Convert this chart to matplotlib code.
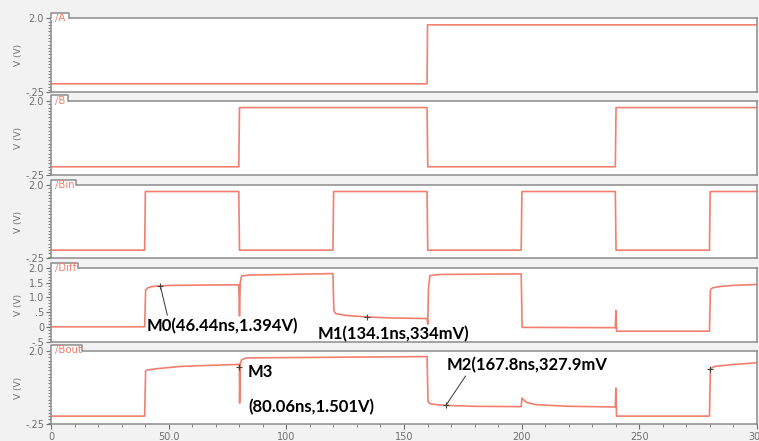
import matplotlib
matplotlib.use('Agg')
import matplotlib.pyplot as plt
from matplotlib.patches import Rectangle
from matplotlib.ticker import MultipleLocator, FixedLocator
import numpy as np

# Wellenformen als Stützpunkte (Zeit in ns, Spannung in V)
a_t = [0, 159.8, 160.0, 300]
a_v = [0.0, 0.0, 1.8, 1.8]

b_t = [0, 79.8, 80.1, 159.8, 160.1, 239.8, 240.1, 300]
b_v = [0.0, 0.0, 1.8, 1.8, 0.0, 0.0, 1.8, 1.8]

bin_t = [0, 39.8, 40.1, 79.8, 80.1, 119.8, 120.1, 159.8, 160.1, 199.8, 200.1, 239.8, 240.1, 279.8, 280.1, 300]
bin_v = [0.0, 0.0, 1.8, 1.8, 0.0, 0.0, 1.8, 1.8, 0.0, 0.0, 1.8, 1.8, 0.0, 0.0, 1.8, 1.8]

diff_t = [0, 39.8, 40.2, 41, 43, 46.44, 52, 79.8, 80.1, 80.4, 81, 84, 100, 119.8,
          120.2, 121, 125, 134.1, 145, 159.8, 160.1, 160.4, 161, 165, 199.8, 200.2,
          239.8, 240.05, 240.3, 279.8, 280.2, 281, 284, 290, 300]
diff_v = [0.0, 0.0, 1.25, 1.32, 1.37, 1.394, 1.41, 1.43, 0.37, 1.5, 1.73, 1.76, 1.78, 1.81,
          0.55, 0.45, 0.39, 0.334, 0.3, 0.28, 0.09, 1.3, 1.74, 1.78, 1.8, -0.02,
          -0.03, 0.55, -0.15, -0.15, 1.25, 1.32, 1.37, 1.41, 1.44]

bout_t = [0, 39.8, 40.2, 41, 45, 55, 75, 79.9, 80.06, 80.15, 80.4, 81, 83, 120, 159.8,
          160.2, 161, 164, 167.8, 180, 199.8, 200.1, 202, 206, 220, 239.8, 240.05,
          240.3, 279.8, 280.2, 282, 290, 300]
bout_v = [0.0, 0.0, 1.38, 1.41, 1.45, 1.52, 1.57, 1.58, 1.501, 0.4, 1.6, 1.72, 1.78, 1.8, 1.82,
          0.45, 0.38, 0.35, 0.3279, 0.3, 0.29, 0.55, 0.42, 0.35, 0.3, 0.28, 0.86,
          0.0, 0.0, 1.45, 1.52, 1.58, 1.63]

signal_namen = ['/A', '/B', '/Bin', '/Diff', '/Bout']
tab_breiten = [18, 17, 25, 27, 31]   # Pixelbreite der Reiter

x_ticks = [0, 50, 100, 150, 200, 250, 300]
x_labels = ['0', '50.0', '100', '150', '200', '250', '300']

# Marker (Zeit, Spannung)
m0 = (46.44, 1.394)
m1 = (134.1, 0.334)
m2 = (167.8, 0.3279)
m3 = (80.06, 1.501)
m_bout_280 = (280.2, 1.45)

farbe = '#f27f6e'
rahmen = '#8c8c8c'
grau = '#6e6e6e'

fig = plt.figure(figsize=(7.59, 4.41), dpi=100)
fig.patch.set_facecolor('#f2f2f2')

links = 51 / 759
breite = 706 / 759
# (oben, unten) in Pixel
panels_px = [(18.3, 92), (101, 175), (185, 258.3), (268, 341.5), (350.7, 424.3)]

achsen = []
for i, (oben, unten) in enumerate(panels_px):
    ax = fig.add_axes([links, 1 - unten / 441, breite, (unten - oben) / 441])
    ax.set_facecolor('white')
    for s in ax.spines.values():
        s.set_color(rahmen)
        s.set_linewidth(1.1)
    ax.set_xlim(0, 300)
    achsen.append(ax)

    # Reiter mit Signalnamen
    h_px = 5.5
    hoehe = unten - oben
    w = tab_breiten[i] / 706
    h = h_px / hoehe
    ax.add_patch(Rectangle((0, 1 - 0.02), w, h + 0.02, transform=ax.transAxes,
                           facecolor='white', edgecolor='none', clip_on=False, zorder=5))
    ax.plot([0, 0, w, w], [1, 1 + h, 1 + h, 1], transform=ax.transAxes, color=rahmen,
            lw=1.1, clip_on=False, zorder=6)
    ax.annotate(signal_namen[i], xy=(0, 1), xycoords='axes fraction', xytext=(3, 0.3),
                textcoords='offset points', va='center', ha='left', fontsize=7.3,
                color=farbe, zorder=7)

    ax.set_ylabel('V (V)', fontsize=6.5, color=grau, labelpad=6)
    ax.yaxis.set_label_coords(-0.04, 0.5)

ax_a, ax_b, ax_bin, ax_diff, ax_bout = achsen

ax_a.plot(a_t, a_v, color=farbe, lw=1.2)
ax_b.plot(b_t, b_v, color=farbe, lw=1.2)
ax_bin.plot(bin_t, bin_v, color=farbe, lw=1.2)
ax_diff.plot(diff_t, diff_v, color=farbe, lw=1.2)
ax_bout.plot(bout_t, bout_v, color=farbe, lw=1.2)

# y-Achsen
for ax in [ax_a, ax_b, ax_bin, ax_bout]:
    ax.set_ylim(-0.25, 2.0)
    ax.yaxis.set_major_locator(FixedLocator([-0.25, 2.0]))
    ax.set_yticklabels(['-.25', '2.0'])
ax_diff.set_ylim(-0.5, 2.0)
ax_diff.yaxis.set_major_locator(FixedLocator([-0.5, 0, 0.5, 1.0, 1.5, 2.0]))
ax_diff.set_yticklabels(['-.5', '0', '.5', '1.0', '1.5', '2.0'])

for ax in achsen:
    ax.yaxis.set_minor_locator(MultipleLocator(0.1))
    ax.tick_params(axis='y', which='major', direction='out', length=3.5, width=0.8,
                   color=grau, labelsize=7, labelcolor=grau, pad=1.5)
    ax.tick_params(axis='y', which='minor', direction='out', length=2, width=0.6, color=grau)
    ax.tick_params(axis='x', which='both', bottom=False, labelbottom=False)

ax_bout.set_xticks(x_ticks)
ax_bout.set_xticklabels(x_labels)
ax_bout.xaxis.set_minor_locator(MultipleLocator(10))
ax_bout.tick_params(axis='x', which='major', bottom=True, labelbottom=True, direction='out',
                    length=3.5, width=0.8, color=grau, labelsize=7, labelcolor=grau, pad=2)
ax_bout.tick_params(axis='x', which='minor', bottom=True, direction='out', length=2,
                    width=0.6, color=grau)

# Marker
for ax, m in [(ax_diff, m0), (ax_diff, m1), (ax_bout, m2), (ax_bout, m3), (ax_bout, m_bout_280)]:
    ax.plot(m[0], m[1], marker='+', color='#444444', ms=4, mew=0.8, zorder=4)

schrift = dict(family=['Lato', 'DejaVu Sans'], fontsize=12, fontweight='bold', color='black')

ax_diff.annotate('M0(46.44ns,1.394V)', xy=m0, xytext=(40.8, 0.02), va='center', ha='left',
                 arrowprops=dict(arrowstyle='-', color='#333333', lw=0.7, shrinkA=0, shrinkB=0,
                                 relpos=(0.14, 0.95)),
                 annotation_clip=False, **schrift)
ax_diff.text(113.5, -0.25, 'M1(134.1ns,334mV)', va='center', ha='left', clip_on=False, **schrift)
ax_bout.annotate('M2(167.8ns,327.9mV', xy=m2, xytext=(168.3, 1.56), va='center', ha='left',
                 arrowprops=dict(arrowstyle='-', color='#333333', lw=0.7, shrinkA=0, shrinkB=0,
                                 relpos=(0.14, 0.2)),
                 annotation_clip=False, **schrift)
ax_bout.text(83.7, 1.35, 'M3', va='center', ha='left', **schrift)
ax_bout.text(83.7, 0.28, '(80.06ns,1.501V)', va='center', ha='left', **schrift)

plt.savefig('out.png', dpi=100, facecolor=fig.get_facecolor())
